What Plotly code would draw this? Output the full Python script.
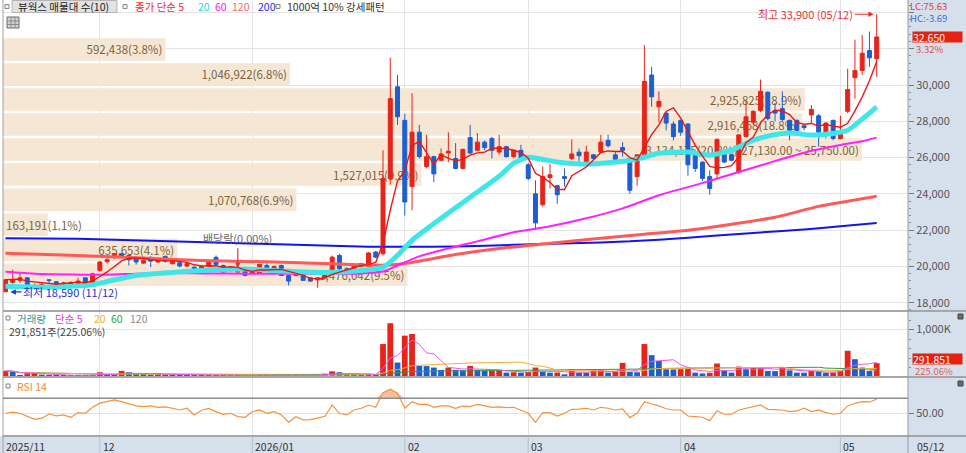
import pandas
import plotly.graph_objs as go

FONT = 'Noto Sans CJK KR'
WIDTH, HEIGHT = 966, 453
RED, BLUE = '#e8231a', '#1d5fce'
GRID = '#e4e4e4'
SIDE_BG = '#d6e0ec'
BEIGE = '#f5e7d4'

holidays = ['2025-12-25', '2025-12-31', '2026-01-01', '2026-02-16', '2026-02-17',
            '2026-02-18', '2026-03-02', '2026-05-01', '2026-05-05']

opens = [18600, 19120, 19230, 19370, 18900, 18950, 19260, 19150, 19040, 19040,
         19080, 19370, 19080, 19780, 20260, 20500, 20700, 20600, 20500, 20180,
         20500, 20240, 20550, 20150, 20200, 20020, 19960, 19870, 20000, 20500,
         20050, 19780, 19690, 19740, 19630, 19630, 20050, 19870, 20050, 19500,
         19500, 19590, 19370, 19260, 19370, 19590, 20600, 19870, 19690, 20000,
         20000, 20790, 20700, 24850, 29900, 28050, 24400, 27400, 25500, 26050,
         25850, 26250, 25950, 25400, 27100, 26400, 26850, 27050, 26300, 26600,
         26050, 26400, 25600, 24000, 23400, 24900, 24450, 24950, 25950, 26300,
         25600, 26150, 26300, 26950, 26150, 26550, 25950, 24950, 26150, 30550,
         28800, 28450, 27850, 28050, 27850, 26150, 25750, 24950, 25100, 26150,
         26150, 25200, 27150, 27950, 28600, 29600, 28600, 28700, 28050, 28050,
         27750, 28350, 28300, 27350, 28050, 27050, 28550, 30400, 30800, 31900,
         31450]
highs = [19300, 19820, 19630, 19400, 19050, 19100, 19300, 19200, 19150, 19200,
         19370, 19400, 19650, 20300, 20500, 20750, 20750, 20650, 20550, 20400,
         20550, 20450, 20600, 20350, 20250, 20200, 20000, 20050, 20300, 20600,
         20100, 19950, 19900, 19800, 19800, 20150, 20240, 20050, 20100, 19550,
         19620, 19650, 19400, 19400, 19550, 20600, 20700, 19950, 20100, 20200,
         20800, 20850, 26400, 31500, 30550, 28400, 29550, 27800, 27250, 26100,
         26500, 27400, 26800, 26500, 27800, 27350, 26950, 27150, 27250, 26650,
         26450, 26700, 25700, 24750, 25500, 25650, 24500, 25400, 27000, 26500,
         26650, 26200, 27250, 27250, 26300, 26850, 26000, 26150, 32200, 31000,
         29650, 28500, 28000, 28100, 27900, 26200, 25800, 25300, 27050, 26200,
         26200, 27300, 29100, 28600, 30300, 29650, 29000, 29650, 28100, 28100,
         27800, 28900, 28400, 27950, 28100, 28300, 30900, 32500, 32750, 32950,
         33900]
lows = [18590, 19040, 19080, 18800, 18800, 18880, 19040, 19000, 18950, 19000,
        19050, 19000, 19000, 19700, 20150, 20400, 20550, 20050, 20100, 20150,
        19960, 20200, 20200, 20100, 19950, 19950, 19650, 19800, 19950, 20050,
        19650, 19700, 19600, 19450, 19600, 19600, 19800, 19800, 19480, 18950,
        19450, 19200, 19150, 18820, 19300, 19550, 19800, 19650, 19650, 19950,
        19950, 20450, 20600, 24500, 27800, 22800, 23100, 25950, 25400, 24650,
        25800, 25750, 25350, 25350, 26200, 26350, 26400, 25950, 26150, 26000,
        25950, 25900, 24750, 22000, 23300, 24300, 23450, 24400, 25850, 25750,
        25500, 25900, 26250, 26550, 25850, 26050, 24000, 24450, 25950, 28800,
        27950, 27500, 26950, 27200, 25000, 25200, 24700, 23950, 24850, 25700,
        25800, 25100, 27100, 27800, 28500, 28050, 28000, 28000, 26950, 27250,
        27500, 27850, 26600, 27050, 26950, 27000, 28450, 29250, 30550, 31000,
        30450]
closes = [19260, 19260, 19370, 18850, 18950, 19000, 19220, 19050, 19080, 19110,
          19190, 19080, 19590, 20240, 20370, 20700, 20600, 20370, 20240, 20330,
          20290, 20370, 20290, 20290, 20020, 20150, 19690, 20000, 20240, 20110,
          19690, 19870, 19820, 19500, 19740, 20110, 19820, 20000, 19500, 19190,
          19590, 19230, 19190, 19370, 19500, 20510, 19870, 19690, 20050, 20150,
          20740, 20510, 24850, 29250, 28250, 23550, 27400, 26050, 26050, 25100,
          26200, 26350, 25400, 26450, 26250, 26850, 26550, 26400, 26600, 26050,
          26400, 25950, 24850, 22400, 24950, 25050, 23950, 24850, 26200, 26100,
          26300, 25950, 26850, 26650, 25900, 26400, 24200, 26150, 30200, 29350,
          29100, 27900, 27150, 27400, 25600, 25400, 24850, 24300, 27000, 25750,
          25850, 27250, 28250, 28550, 29650, 28150, 28450, 28100, 27500, 27500,
          27650, 28650, 27400, 27900, 27050, 27350, 29750, 30800, 31750, 31500,
          32650]
# volume in thousands of shares
volume_k = [130, 115, 40, 80, 85, 50, 40, 35, 30, 40,
            30, 40, 45, 100, 45, 40, 130, 100, 60, 60,
            45, 80, 45, 45, 40, 35, 35, 35, 40, 45,
            35, 30, 30, 35, 30, 55, 40, 40, 45, 45,
            30, 35, 30, 40, 70, 120, 100, 50, 45, 40,
            70, 60, 695, 1134, 305, 872, 908, 234, 230, 199,
            150, 199, 150, 140, 234, 150, 128, 130, 132, 92,
            100, 92, 106, 199, 106, 92, 95, 57, 163, 92,
            90, 142, 145, 92, 110, 298, 106, 100, 695, 461,
            340, 163, 160, 165, 168, 92, 75, 90, 284, 128,
            92, 220, 163, 199, 205, 128, 125, 199, 140, 92,
            90, 128, 125, 92, 95, 128, 553, 376, 199, 130,
            291.851]
rsi_values = [50, 51.5, 50, 46, 42, 43.5, 49, 46.5, 47.8, 44.7,
              51, 50, 58, 63.5, 66, 67.8, 65.5, 63, 60, 58.9,
              60, 58, 58.5, 56.7, 54.4, 56.7, 47.8, 54, 56.5, 52.2,
              48.5, 50, 45.5, 44.7, 52, 54.4, 50, 52.2, 47.8, 38,
              45.5, 41.1, 41.5, 43.5, 46, 61, 50, 47.8, 54.4, 56.7,
              61, 58, 77.6, 82, 76.7, 56.7, 65.5, 62, 62, 58,
              59.8, 59.8, 56.7, 59.8, 58.9, 62, 59.5, 58, 58.5, 57.5,
              58, 54.4, 50, 38, 50.9, 50.9, 46.4, 50, 55.3, 55.5,
              56.7, 54.4, 58, 56.7, 54.4, 55.8, 44.2, 50, 65.5, 62.4,
              59.8, 56, 54.4, 54.4, 46.4, 45.5, 44.7, 40.2, 53.5, 48.7,
              48.7, 54.4, 56.7, 58.5, 61.1, 55.3, 54.4, 54.4, 52.2, 53.1,
              56.7, 52.2, 54.4, 50.9, 48.7, 50, 59.8, 63.3, 65.5, 65.1,
              68.7]

# longer moving averages (candle index, price)
ma20_idx = [0, 6, 12, 14, 18, 23, 27, 33, 38, 44, 49, 52, 54, 56, 60, 64, 68, 70, 72, 76,
            80, 84, 86, 88, 90, 94, 97, 100, 103, 105, 108, 111, 114, 116, 117, 118, 119, 120]
ma20_val = [18900, 18850, 18980, 19170, 19500, 19670, 19780, 19860, 19750, 19670,
            19780, 19945, 20610, 21440, 22650, 23810, 24970, 25690, 26020, 25750,
            25635, 25750, 25850, 26020, 26240, 26300, 26130, 26410, 26960, 27180,
            27350, 27240, 27330, 27510, 27790, 28120, 28450, 28800]
ma60_idx = [0, 4, 9, 14, 18, 23, 28, 33, 39, 44, 49, 52, 54, 57, 61, 65, 70, 75, 80, 85,
            90, 95, 100, 105, 110, 115, 118, 120]
ma60_val = [19700, 19600, 19560, 19540, 19600, 19640, 19610, 19600, 19600, 19590,
            19610, 19720, 20050, 20550, 20990, 21380, 21880, 22210, 22650, 23200,
            23920, 24480, 25080, 25690, 26270, 26690, 26900, 27100]
ma120_idx = [0, 9, 18, 27, 36, 45, 52, 56, 62, 68, 75, 82, 88, 94, 100, 106, 112, 116, 120]
ma120_val = [20730, 20610, 20470, 20330, 20250, 20140, 20060, 20220, 20660, 20990,
             21270, 21550, 21770, 21990, 22320, 22710, 23310, 23590, 23870]
ma200_idx = [0, 10, 20, 30, 40, 50, 55, 62, 70, 78, 86, 94, 102, 110, 115, 120]
ma200_val = [21550, 21520, 21410, 21300, 21190, 21080, 21080, 21100, 21190, 21270,
             21380, 21580, 21820, 22040, 22210, 22390]

# volume profile (매물대), top band first
band_bottoms = [31270, 29890, 28510, 27130, 25750, 24370, 22990, 21610, 20230, 18850]
band_step = 1380
band_volumes = [592438, 1046922, 2925825, 2916458, 3134175, 1527015, 1070768, 163191, 635653, 1476042]
band_labels = ['592,438(3.8%)', '1,046,922(6.8%)', '2,925,825(18.9%)', '2,916,458(18.8%)',
               '3,134,175(20.2%)(27,130.00 ~ 25,750.00)', '1,527,015(9.9%)', '1,070,768(6.9%)',
               '163,191(1.1%)', '635,653(4.1%)', '1,476,042(9.5%)']

price_ticks = [18000, 20000, 22000, 24000, 26000, 28000, 30000, 32000, 34000]
price_tick_text = ['18,000', '20,000', '22,000', '24,000', '26,000', '28,000', '30,000', '', '']
month_labels = ['12', '2026/01', '02', '03', '04', '05']

X_RANGE = [-0.34, 124.31]
PLOT_LEFT, PLOT_RIGHT = 3, 908


def px(x):
    return x / WIDTH


def py(y):
    return 1 - y / HEIGHT


def trading_days():
    days = pandas.bdate_range('2025-11-12', '2026-05-12')
    return [d for d in days if d.strftime('%Y-%m-%d') not in holidays]


def note(x, y, text, color, size=11, **kw):
    return dict(x=px(x), y=py(y), xref='paper', yref='paper', text=text, showarrow=False,
                xanchor='left', yanchor='middle', font=dict(family=FONT, size=size, color=color), **kw)


def rect(x0, y0, x1, y1, fill, line=None, layer='above'):
    return dict(type='rect', xref='paper', yref='paper', x0=px(x0), x1=px(x1), y0=py(y0), y1=py(y1),
                fillcolor=fill, line=dict(color=line or fill, width=1 if line else 0), layer=layer)


def hline(y, x0, x1, color, width=1):
    return dict(type='line', xref='paper', yref='paper', x0=px(x0), x1=px(x1), y0=py(y), y1=py(y),
                line=dict(color=color, width=width))


def vline(x, y0, y1, color, width=1):
    return dict(type='line', xref='paper', yref='paper', x0=px(x), x1=px(x), y0=py(y0), y1=py(y1),
                line=dict(color=color, width=width))


def band_traces():
    plot_px = PLOT_RIGHT - PLOT_LEFT
    band_max = max(band_volumes) / 0.949
    centers = [b + band_step / 2 for b in band_bottoms]
    traces = []
    for anchor in ['end', 'start']:
        keep = [k for k in range(len(band_volumes))
                if (band_volumes[k] / band_max * plot_px >= 90) == (anchor == 'end')]
        traces.append(go.Bar(x=[band_volumes[k] for k in keep], y=[centers[k] for k in keep],
                             orientation='h', width=band_step * 0.9,
                             marker=dict(color=BEIGE, line=dict(width=0)),
                             text=[band_labels[k] for k in keep], textposition='inside',
                             insidetextanchor=anchor, textangle=0, constraintext='none',
                             textfont=dict(family=FONT, size=11.5, color='#7b6342'),
                             xaxis='x', yaxis='y', hoverinfo='skip'))
    return traces, band_max


def get_figure():
    days = trading_days()
    assert len(days) == len(closes)
    idx = list(range(len(closes)))
    month_idx = [i for i in range(1, len(days)) if days[i].month != days[i - 1].month]

    traces, band_max = band_traces()

    traces.append(go.Candlestick(x=idx, open=opens, high=highs, low=lows, close=closes,
                                 xaxis='x5', yaxis='y', whiskerwidth=0, hoverinfo='skip',
                                 increasing=dict(line=dict(color=RED, width=1), fillcolor=RED),
                                 decreasing=dict(line=dict(color=BLUE, width=1), fillcolor=BLUE)))
    for ix, val, color, width in [(ma200_idx, ma200_val, '#1414ec', 2),
                                  (ma120_idx, ma120_val, '#ff5a5a', 3),
                                  (ma60_idx, ma60_val, '#ff20ff', 2),
                                  (ma20_idx, ma20_val, '#3ee6e8', 5)]:
        traces.append(go.Scatter(x=ix, y=val, mode='lines', xaxis='x5', yaxis='y', hoverinfo='skip',
                                 line=dict(color=color, width=width, shape='spline', smoothing=0.6)))
    ma5 = pandas.Series(closes).rolling(5, min_periods=1).mean()
    traces.append(go.Scatter(x=idx, y=ma5, mode='lines', xaxis='x5', yaxis='y', hoverinfo='skip',
                             line=dict(color='#f01414', width=1.4)))

    vol = pandas.Series(volume_k)
    vol_colors = [RED if i == 0 or volume_k[i] > volume_k[i - 1] else BLUE for i in idx]
    traces.append(go.Bar(x=idx, y=volume_k, width=0.8, marker=dict(color=vol_colors, line=dict(width=0)),
                         xaxis='x2', yaxis='y2', hoverinfo='skip'))
    for window, color, min_p in [(120, '#9a9a9a', 120), (60, '#2ea043', 1), (20, '#f2b035', 1), (5, '#ee55ee', 1)]:
        traces.append(go.Scatter(x=idx, y=vol.rolling(window, min_periods=min_p).mean(), mode='lines',
                                 xaxis='x2', yaxis='y2', hoverinfo='skip', line=dict(color=color, width=1)))

    rsi_top = [max(v, 70) for v in rsi_values]
    traces.append(go.Scatter(x=idx, y=[70] * len(idx), mode='lines', line=dict(width=0),
                             xaxis='x3', yaxis='y3', hoverinfo='skip'))
    traces.append(go.Scatter(x=idx, y=rsi_top, mode='lines', line=dict(width=0), fill='tonexty',
                             fillcolor='rgba(240,150,95,0.6)', xaxis='x3', yaxis='y3', hoverinfo='skip'))
    traces.append(go.Scatter(x=idx, y=rsi_values, mode='lines', line=dict(color='#f5913d', width=1.2),
                             xaxis='x3', yaxis='y3', hoverinfo='skip'))

    domain_x = [px(PLOT_LEFT), px(PLOT_RIGHT)]
    month_x = dict(tickmode='array', tickvals=month_idx, showticklabels=False, showgrid=True,
                   gridcolor=GRID, gridwidth=1, zeroline=False, ticks='')
    tick_font = dict(family=FONT, size=11, color='#555')
    y_common = dict(side='right', showline=False, zeroline=False, ticks='outside', ticklen=5,
                    tickcolor='#7a7a7a', tickfont=tick_font, gridcolor=GRID, fixedrange=True)

    layout = go.Layout(
        width=WIDTH, height=HEIGHT, margin=dict(l=0, r=0, t=0, b=0),
        paper_bgcolor='white', plot_bgcolor='white', showlegend=False, hovermode=False,
        barmode='overlay', boxgap=0.22, font=dict(family=FONT, size=11, color='#444'),
        xaxis=dict(domain=domain_x, range=[0, band_max], visible=False, anchor='y', fixedrange=True),
        xaxis5=dict(overlaying='x', anchor='y', range=X_RANGE, rangeslider=dict(visible=False), **month_x),
        yaxis=dict(domain=[py(311), 1], range=[17541, 34686], anchor='x', tickmode='array',
                   tickvals=price_ticks, ticktext=price_tick_text, showgrid=True,
                   minor=dict(tickmode='linear', tick0=0, dtick=400, ticks='outside', ticklen=2,
                              tickcolor='#8a8a8a', showgrid=False), **y_common),
        xaxis2=dict(domain=domain_x, anchor='y2', matches='x5', range=X_RANGE, **month_x),
        yaxis2=dict(domain=[py(377), py(311)], range=[0, 1392], anchor='x2', tickmode='array',
                    tickvals=[1000], ticktext=['1,000K'], showgrid=True,
                    minor=dict(tickmode='linear', tick0=0, dtick=200, ticks='outside', ticklen=2,
                               tickcolor='#8a8a8a', showgrid=False), **y_common),
        xaxis3=dict(domain=domain_x, anchor='y3', matches='x5', range=X_RANGE, **month_x),
        yaxis3=dict(domain=[py(436), py(377)], range=[19.7, 98.4], anchor='x3', tickmode='array',
                    tickvals=[50], ticktext=['50.00'], showgrid=True, **y_common),
    )

    shapes = [rect(PLOT_RIGHT, 0, WIDTH, 453, SIDE_BG, layer='below'),
              rect(0, 436, WIDTH, 453, SIDE_BG, layer='below'),
              hline(311, PLOT_LEFT, WIDTH, '#a6a6a6', 2),
              hline(377, PLOT_LEFT, WIDTH, '#a6a6a6', 2),
              hline(436, PLOT_LEFT, WIDTH, '#a6a6a6', 2),
              vline(PLOT_LEFT, 0, 453, '#a0a0a0'),
              vline(PLOT_RIGHT, 0, 453, '#9098a4'),
              dict(type='line', xref='paper', yref='y3', x0=px(PLOT_LEFT), x1=px(PLOT_RIGHT), y0=70, y1=70,
                   line=dict(color='#8c8c8c', width=1.5)),
              rect(12, 0.5, 117, 12.5, '#e2e2e2', '#b5b5b5'),
              rect(7, 17, 19, 28, '#d4d4d4', '#666'),
              vline(11, 17, 28, '#8a8a8a'), vline(15, 17, 28, '#8a8a8a'),
              hline(21, 7, 19, '#8a8a8a'), hline(24.5, 7, 19, '#8a8a8a'),
              rect(958, 314, 963, 319, '#6a6a6a', '#444'),
              rect(958, 381, 963, 386, '#6a6a6a', '#444')]
    for bx, by in [(5, 4.5), (123, 4.5), (276, 4.5), (6, 316), (6, 384)]:
        shapes.append(rect(bx, by, bx + 4, by + 4, '#f2f2f2', '#888'))
    for m in month_idx:
        shapes.append(dict(type='line', xref='x5', yref='paper', x0=m, x1=m, y0=0, y1=py(436),
                           line=dict(color='#b6bfcc', width=1)))

    ann = [note(16, 7, '뷰웍스 매물대 수(10)', '#222', 10.5),
           note(133, 7, '종가 단순 5', '#ee2a2a', 10.5), note(196, 7, '20', '#1fd6e6', 10.5),
           note(213, 7, '60', '#ee22ee', 10.5), note(230, 7, '120', '#f26a6a', 10.5),
           note(256, 7, '200', '#2030e0', 10.5), note(285, 7, '1000억 10% 강세패턴', '#333', 10.5),
           note(15, 318, '거래량', '#2a9a9a', 10.5), note(53, 318, '단순 5', '#e040d0', 10.5),
           note(92, 318, '20', '#f0b030', 10.5), note(109, 318, '60', '#30a040', 10.5),
           note(128, 318, '120', '#8a8a8a', 10.5), note(7, 331, '291,851주(225.06%)', '#444', 10.5),
           note(15, 386, 'RSI 14', '#f08a30', 10.5),
           note(909, 6.5, 'LC:75.63', '#e53a3a', 9.5, borderpad=0),
           note(909, 18, 'HC:-3.69', '#3a6ad8', 9.5, borderpad=0),
           note(915, 49, '3.32%', '#e05050', 9.5, borderpad=0),
           note(914, 371, '225.06%', '#e06060', 9.5, borderpad=0),
           note(4, 446, '2025/11', '#333', 10.5), note(915, 446, '05/12', '#333', 10.5)]
    ann.append(dict(x=px(912), y=closes[-1], xref='paper', yref='y', text=f'{closes[-1]:,}',
                    showarrow=False, xanchor='left', yanchor='middle', bgcolor='#e8200f', width=49,
                    height=10, align='left', borderpad=0, font=dict(family=FONT, size=10.5, color='white')))
    ann.append(dict(x=px(912), y=py(359), xref='paper', yref='paper', text=f'{round(volume_k[-1] * 1000):,}',
                    showarrow=False, xanchor='left', yanchor='middle', bgcolor='#e8200f', width=49,
                    height=10, align='left', borderpad=0, font=dict(family=FONT, size=10.5, color='white')))
    for m, label in zip(month_idx, month_labels):
        ann.append(dict(x=m, y=py(446), xref='x5', yref='paper', text=label, showarrow=False,
                        xanchor='left', yanchor='middle', xshift=1, font=dict(family=FONT, size=10.5, color='#333')))

    top = highs.index(max(highs))
    low = lows.index(min(lows))
    exdiv = [d.strftime('%Y-%m-%d') for d in days].index('2025-12-29')
    ann.append(dict(x=top, y=max(highs), xref='x5', yref='y', ax=-22, ay=0, xanchor='right',
                    text=f'최고 {max(highs):,} ({days[top]:%m/%d})', showarrow=True, arrowhead=2,
                    arrowsize=0.9, arrowwidth=1.2, arrowcolor='#e83030', standoff=3,
                    font=dict(family=FONT, size=11, color='#e83030')))
    ann.append(dict(x=low, y=min(lows), xref='x5', yref='y', ax=16, ay=0, xanchor='left',
                    text=f'최저 {min(lows):,} ({days[low]:%m/%d})', showarrow=True, arrowhead=2,
                    arrowsize=0.9, arrowwidth=1.2, arrowcolor='#2233cc', standoff=5,
                    font=dict(family=FONT, size=11, color='#2233cc')))
    ann.append(dict(x=exdiv, y=highs[exdiv], xref='x5', yref='y', ax=0, ay=-20, yanchor='bottom',
                    text='배당락(0.00%)', showarrow=True, arrowhead=2, arrowsize=0.9, arrowwidth=1.2,
                    arrowcolor='#e83030', font=dict(family=FONT, size=11, color='#666')))

    layout.update(shapes=shapes, annotations=ann)
    return go.Figure(data=traces, layout=layout)


figure = get_figure()
figure.write_html('out.html', config={'displayModeBar': False},
                  post_script="document.body.style.margin='0px';")
